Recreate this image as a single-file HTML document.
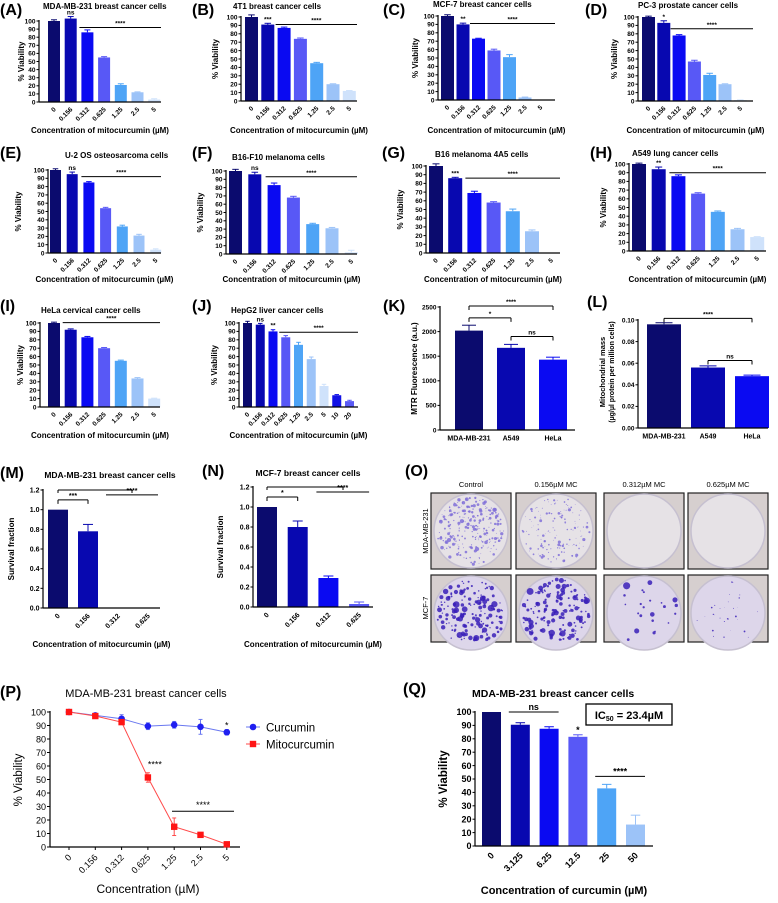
<!DOCTYPE html>
<html><head><meta charset="utf-8"><style>
html,body{margin:0;padding:0;background:#fff}
svg{display:block;font-family:"Liberation Sans",Arial,sans-serif}
</style></head><body>
<svg id="fig" width="778" height="903" viewBox="0 0 778 903" xmlns="http://www.w3.org/2000/svg"></svg>
<script>
// ---------- data ----------
const viabTicks=[0,10,20,30,40,50,60,70,80,90,100];
const viabTickLabels=['0','10','20','30','40','50','60','70','80','90','100'];
const conc7=['0','0.156','0.312','0.625','1.25','2.5','5'];
const conc9=['0','0.156','0.312','0.625','1.25','2.5','5','10','20'];
const A_vals=[100,103,86,55,21,12,3];   const A_errs=[1.5,2.5,3,1,1.5,0.5,1];
const B_vals=[100,91,87,74,45,20,12];   const B_errs=[2.5,1.5,1,1,1,0.5,0.5];
const C_vals=[100,90,73,59,51,3,0];     const C_errs=[1.5,1.5,0.5,1.5,3,0.5,0];
const D_vals=[100,93,78,47,31,20,1];    const D_errs=[1,2.5,1,1.5,2,0.5,0.3];
const E_vals=[100,95,85,54,32,21,4];    const E_errs=[1.5,2.5,1,1,1.5,1.5,1];
const F_vals=[100,96,83,68,36,31,2];    const F_errs=[2,2.5,2.5,1.5,1,1,2.5];
const G_vals=[100,86,69,58,48,25,0];    const G_errs=[2.5,1,2,1,2.5,1.5,0];
const H_vals=[100,94,86,66,45,25,16];   const H_errs=[1,2.5,1.5,1,1,1,0.5];
const I_vals=[100,92,83,70,55,34,10];   const I_errs=[1,1,1,0.8,0.8,1,0.5];
const J_vals=[100,98,90,83,74,57,25,14,7]; const J_errs=[2,1.5,2,2,3,2.5,2,0.8,1];
const K_cats=['MDA-MB-231','A549','HeLa'];
const K_vals=[2020,1670,1430]; const K_errs=[110,70,50];
const K_ticks=[0,500,1000,1500,2000,2500]; const K_tickLabels=['0','500','1000','1500','2000','2500'];
const L_vals=[0.096,0.056,0.048]; const L_errs=[0.0015,0.0015,0.001];
const L_ticks=[0,0.02,0.04,0.06,0.08,0.10]; const L_tickLabels=['0.00','0.02','0.04','0.06','0.08','0.10'];
const MN_cats=['0','0.156','0.312','0.625'];
const M_vals=[1,0.78,0,0]; const M_errs=[0,0.07,0,0];
const N_vals=[1,0.80,0.29,0.03]; const N_errs=[0,0.06,0.02,0.02];
const SF_ticks=[0,0.2,0.4,0.6,0.8,1.0,1.2]; const SF_tickLabels=['0.0','0.2','0.4','0.6','0.8','1.0','1.2'];
const P_curcumin=[100,97.5,95,89.5,90.5,89,85]; const P_curErr=[1,1,3,2.5,2.5,5.5,2];
const P_mito=[100,97,92.5,51.5,15,9,2]; const P_mitoErr=[1,1,1.5,3.5,6.5,1,1];
const Q_cats=['0','3.125','6.25','12.5','25','50'];
const Q_vals=[100,90.5,87.5,81.5,43,16]; const Q_errs=[0,1.5,1.5,1.5,3,7];

const C7=['#0b0b6e','#0808b0','#0a0af2','#5858f6','#4ea4f6','#9cc3f8','#cfe2fb'];
const C9=C7.concat(['#1212e6','#5a5af5']);

// ---------- helpers ----------
const NS='http://www.w3.org/2000/svg';
const svg=document.getElementById('fig');
function mk(tag,attrs,name,parent){
  const e=document.createElementNS(NS,tag);
  for(const k in attrs) e.setAttribute(k,attrs[k]);
  
  
  (parent||svg).appendChild(e);
  return e;
}
function txt(x,y,s,size,name,o){
  o=o||{};
  const t=mk('text',{x:x,y:y,'font-size':size,'font-weight':o.w||'bold','text-anchor':o.a||'start',fill:o.fill||'#000'},name,o.p);
  if(o.rot) t.setAttribute('transform','rotate('+o.rot+' '+x+' '+y+')');
  t.textContent=s; return t;
}
function line(x1,y1,x2,y2,name,p,col,w){return mk('line',{x1:x1,y1:y1,x2:x2,y2:y2,stroke:col||'#000','stroke-width':w||1},name,p);}

function barPanel(g,d){
  const grp=mk('g',{},g.id+'-panel');
  const ys=v=>g.y0-(v/g.max)*(g.y0-g.yTop);
  const xl=i=>g.bx+i*g.step;
  const xc=i=>xl(i)+g.bw/2;
  const fs=g.fs||6.5;
  d.vals.forEach((v,i)=>{
    mk('rect',{x:xl(i),y:ys(v),width:g.bw,height:Math.max(0,g.y0-ys(v)),fill:d.colors[i]},'bar-'+d.cats[i],grp);
    if(d.errs[i]>0){
      const ye=ys(v+d.errs[i]);
      line(xc(i),ys(v),xc(i),ye,'error-bar',grp,d.colors[i],1);
      line(xc(i)-g.bw*0.25,ye,xc(i)+g.bw*0.25,ye,'error-cap',grp,d.colors[i],1);
    }
  });
  line(g.ax,g.y0,g.ax,g.yTop-1,'y-axis',grp,'#000',1.2);
  line(g.ax,g.y0,g.end,g.y0,'x-axis',grp,'#000',1.2);
  d.ticks.forEach((t,k)=>{
    line(g.ax-2.5,ys(t),g.ax,ys(t),'y-tick',grp);
    txt(g.ax-3.5,ys(t)+fs*0.36,d.tickLabels[k],fs,'y-tick-label',{a:'end',p:grp});
  });
  d.cats.forEach((c,i)=>{
    if(g.flat) txt(xc(i),g.y0+fs+4,c,fs+0.5,'x-tick-label',{a:'middle',p:grp});
    else txt(xc(i)+fs*0.35,g.y0+fs*0.9+2,c,fs,'x-tick-label',{a:'end',rot:-45,p:grp});
  });
  if(g.xt) txt(g.xtx||(g.ax+g.end)/2,g.xty,g.xt,g.xfs||8,'x-axis-title',{a:'middle',p:grp});
  if(g.yl) txt(g.ylx,(g.y0+g.yTop)/2,g.yl,g.yfs||8,'y-axis-title',{a:'middle',rot:-90,p:grp});
  if(g.title) txt(g.tx,g.ty,g.title,g.tfs||8,'chart-title',{a:g.ta||'start',p:grp});
  if(g.label) txt(g.lx,g.ly,g.label,16,'panel-label',{p:grp});
  (d.sig||[]).forEach(s=>{
    if(s.t==='star'){ txt(xc(s.i),ys(d.vals[s.i]+d.errs[s.i])-2,s.s,fs,'significance-mark',{a:'middle',p:grp}); }
    else if(s.t==='line'){ const x1=xl(s.i)-2, x2=s.to!=null?xc(s.to)+g.bw/2:g.end, y=ys(s.v);
      line(x1,y,x2,y,'significance-line',grp); txt((x1+x2)/2,y-2,s.s,fs,'significance-mark',{a:'middle',p:grp}); }
    else if(s.t==='br'){ const x1=xc(s.i), x2=s.x2!=null?s.x2:xc(s.j), y=ys(s.v), h=s.h||4;
      line(x1,y,x2,y,'significance-bracket',grp); line(x1,y,x1,y+h,'bracket-tick',grp); line(x2,y,x2,y+h,'bracket-tick',grp);
      if(s.s) txt((x1+x2)/2,y-2,s.s,fs,'significance-mark',{a:'middle',p:grp}); }
  });
  return {ys:ys,xc:xc,xl:xl};
}

const XT='Concentration of mitocurcumin (\u00b5M)';
const VL='% Viability';
function vp(id,geo,vals,errs,cats,colors,sig){
  geo.id=id; geo.max=100; geo.yl=VL; geo.xt=XT;
  return barPanel(geo,{vals:vals,errs:errs,cats:cats,colors:colors,ticks:viabTicks,tickLabels:viabTickLabels,sig:sig});
}
// Row 1
vp('A',{ax:39,y0:102,yTop:21,bx:48,step:16.7,bw:12,end:161,ylx:24,xty:133,title:'MDA-MB-231 breast cancer cells',tx:43,ty:9,label:'(A)',lx:0,ly:15},A_vals,A_errs,conc7,C7,
 [{t:'star',i:1,s:'ns'},{t:'line',i:2,v:92,s:'****'}]);
vp('B',{ax:241,y0:101,yTop:17,bx:245,step:16.3,bw:13,end:357,ylx:218,xty:133,title:'4T1 breast cancer cells',tx:233,ty:9,label:'(B)',lx:192,ly:15},B_vals,B_errs,conc7,C7,
 [{t:'star',i:1,s:'***'},{t:'line',i:2,v:91,s:'****'}]);
vp('C',{ax:438,y0:100,yTop:16,bx:441,step:15.5,bw:13,end:555,ylx:418,xty:133,title:'MCF-7 breast cancer cells',tx:433,ty:7,label:'(C)',lx:383,ly:15},C_vals,C_errs,conc7,C7,
 [{t:'star',i:1,s:'**'},{t:'line',i:2,v:91,s:'****'}]);
vp('D',{ax:638,y0:101,yTop:17,bx:642,step:15.3,bw:13,end:753,ylx:617,xty:133,title:'PC-3 prostate cancer cells',tx:638,ty:8,label:'(D)',lx:585,ly:15},D_vals,D_errs,conc7,C7,
 [{t:'star',i:1,s:'*'},{t:'line',i:2,v:86,s:'****'}]);
// Row 2
vp('E',{ax:48,y0:253,yTop:170,bx:50,step:16.7,bw:11,end:161,ylx:21,xty:282,title:'U-2 OS osteosarcoma cells',tx:65,ty:158,label:'(E)',lx:0,ly:158},E_vals,E_errs,conc7,C7,
 [{t:'star',i:1,s:'ns'},{t:'line',i:2,v:92,s:'****'}]);
vp('F',{ax:226,y0:254,yTop:171,bx:229,step:19.3,bw:13,end:357,ylx:203,xty:282,title:'B16-F10 melanoma cells',tx:232,ty:160,label:'(F)',lx:192,ly:158},F_vals,F_errs,conc7,C7,
 [{t:'star',i:1,s:'ns'},{t:'line',i:2,v:93,s:'****'}]);
vp('G',{ax:426,y0:253,yTop:166,bx:429,step:19.2,bw:14,end:560,ylx:403,xty:282,title:'B16 melanoma 4A5 cells',tx:435,ty:157,label:'(G)',lx:382,ly:158},G_vals,G_errs,conc7,C7,
 [{t:'star',i:1,s:'***'},{t:'line',i:2,v:86,s:'****'}]);
vp('H',{ax:629,y0:251,yTop:164,bx:632,step:19.7,bw:14,end:766,ylx:606,xty:282,title:'A549 lung cancer cells',tx:632,ty:156,label:'(H)',lx:590,ly:158},H_vals,H_errs,conc7,C7,
 [{t:'star',i:1,s:'**'},{t:'line',i:2,v:90,s:'****'}]);
// Row 3
vp('I',{ax:40,y0:407,yTop:323,bx:48,step:16.7,bw:12,end:160,ylx:23,xty:438,title:'HeLa cervical cancer cells',tx:41,ty:313,label:'(I)',lx:0,ly:311},I_vals,I_errs,conc7,C7,
 [{t:'line',i:1,v:100.5,s:'****'}]);
vp('J',{ax:239,y0:407,yTop:323,bx:243,step:12.75,bw:9,end:358,ylx:217,xty:438,title:'HepG2 liver cancer cells',tx:231,ty:313,label:'(J)',lx:192,ly:311},J_vals,J_errs,conc9,C9,
 [{t:'star',i:1,s:'ns'},{t:'star',i:2,s:'**'},{t:'line',i:3,v:89,s:'****'}]);
barPanel({id:'K',ax:440,y0:430,yTop:307,max:2500,bx:455,step:42,bw:28,end:575,flat:true,yl:'MTR Fluorescence (a.u.)',ylx:417,yfs:8,label:'(K)',lx:383,ly:311},
 {vals:K_vals,errs:K_errs,cats:K_cats,colors:C7,ticks:K_ticks,tickLabels:K_tickLabels,
  sig:[{t:'br',i:0,j:2,v:2520,s:'****'},{t:'br',i:0,j:1,v:2280,s:'*'},{t:'br',i:1,j:2,v:1900,s:'ns'}]});
barPanel({id:'L',ax:638,y0:428,yTop:320,max:0.10,bx:647,step:44,bw:34,end:768,flat:true,label:'(L)',lx:587,ly:307},
 {vals:L_vals,errs:L_errs,cats:K_cats,colors:C7,ticks:L_ticks,tickLabels:L_tickLabels,
  sig:[{t:'br',i:0,j:2,v:0.1015,s:'****'},{t:'br',i:1,j:2,v:0.0625,s:'ns'}]});
txt(605,372,'Mitochondrial mass',7.5,'y-axis-title',{a:'middle',rot:-90});
txt(614,372,'(\u00b5g/\u00b5l protein per million cells)',7,'y-axis-title',{a:'middle',rot:-90});
// Row 4 M N
barPanel({id:'M',ax:43,y0:608,yTop:490,max:1.2,bx:48,step:30,bw:20,end:160,fs:7,yl:'Survival fraction',ylx:14,xt:XT,xty:647,title:'MDA-MB-231 breast cancer cells',tx:110,ty:478,ta:'middle',tfs:8.5,label:'(M)',lx:0,ly:478},
 {vals:M_vals,errs:M_errs,cats:MN_cats,colors:C7,ticks:SF_ticks,tickLabels:SF_tickLabels,
  sig:[{t:'br',i:0,j:1,v:1.1,s:'***'},{t:'br',i:0,x2:132,v:1.2,s:'',h:3},{t:'line',i:2,to:3,v:1.15,s:'****'}]});
barPanel({id:'N',ax:253,y0:607,yTop:487,max:1.2,bx:257,step:30.7,bw:20,end:373,fs:7,yl:'Survival fraction',ylx:223,xt:XT,xty:647,title:'MCF-7 breast cancer cells',tx:308,ty:476,ta:'middle',tfs:8.5,label:'(N)',lx:202,ly:476},
 {vals:N_vals,errs:N_errs,cats:MN_cats,colors:C7,ticks:SF_ticks,tickLabels:SF_tickLabels,
  sig:[{t:'br',i:0,j:1,v:1.1,s:'*'},{t:'br',i:0,x2:343,v:1.2,s:'',h:3},{t:'line',i:2,to:3,v:1.15,s:'****'}]});

// ---------- O photos ----------
(function(){
  txt(405,476,'(O)',16,'panel-label');
  const colX=[431,516,604,688], rowY=[493,575], W=80, H=[76,67];
  const heads=['Control','0.156\u00b5M MC','0.312\u00b5M MC','0.625\u00b5M MC'];
  heads.forEach((h,i)=>txt(colX[i]+W/2,487,h,7.5,'column-header',{a:'middle',w:'normal'}));
  txt(428,531,'MDA-MB-231',7.5,'row-label',{a:'middle',w:'normal',rot:-90});
  txt(428,608,'MCF-7',7.5,'row-label',{a:'middle',w:'normal',rot:-90});
  let s=7; const rnd=()=>{s=(s*16807)%2147483647;return s/2147483647;};
  const dens=[[260,150,0,0],[160,150,25,30]], size=[[0.8,0.6,0,0],[1.3,1.4,1.6,0.45]];
  const dot=['#8070d8','#3a20b8'];
  rowY.forEach((y,r)=>colX.forEach((x,c)=>{
    mk('rect',{x:x,y:y,width:W,height:H[r],fill:'#d6cfcf',stroke:'#222','stroke-width':1.2},'plate-photo');
    const cx=x+W/2, cy=y+38, R=37;
    mk('circle',{cx:cx,cy:cy,r:R,fill:r===1?'#ddd6ea':'#e6e2e6',stroke:'#c6c0d0','stroke-width':1.5},'plate-dish');
    for(let k=0;k<dens[r][c];k++){
      const a=rnd()*6.283, d=Math.sqrt(rnd())*(R-3);
      const py=cy+Math.sin(a)*d; const rr=(0.5+rnd()*rnd()*2.2)*size[r][c];
      if(py>y+H[r]-1) continue;
      mk('circle',{cx:cx+Math.cos(a)*d,cy:py,r:rr,fill:dot[r],opacity:0.85},'colony');
    }
  }));
})();

// ---------- P line chart ----------
(function(){
  const ax=50,y0=847,yTop=712,x0=69,dx=26.3,end=240;
  const ys=v=>y0-(v/100)*(y0-yTop), xs=i=>x0+i*dx;
  const g=mk('g',{},'P-panel');
  txt(0,697,'(P)',16,'panel-label',{p:g});
  txt(146,697,'MDA-MB-231 breast cancer cells',11,'chart-title',{a:'middle',w:'normal',p:g});
  line(ax,y0,ax,yTop-1,'y-axis',g,'#000',1.2); line(ax,y0,end,y0,'x-axis',g,'#000',1.2);
  viabTicks.forEach((t,k)=>{line(ax-3,ys(t),ax,ys(t),'y-tick',g);txt(ax-4,ys(t)+3.3,viabTickLabels[k],9,'y-tick-label',{a:'end',w:'normal',p:g});});
  conc7.forEach((c,i)=>{line(xs(i),y0,xs(i),y0+3,'x-tick',g);txt(xs(i)+3,y0+11,c,9,'x-tick-label',{a:'end',w:'normal',rot:-45,p:g});});
  txt(22,780,VL,11.5,'y-axis-title',{a:'middle',w:'normal',rot:-90,p:g});
  txt(148,893,'Concentration (\u00b5M)',12,'x-axis-title',{a:'middle',w:'normal',p:g});
  const ser=[[P_curcumin,P_curErr,'#1f1ff0','#6a78f0','curcumin'],[P_mito,P_mitoErr,'#ff1414','#ff4a4a','mitocurcumin']];
  ser.forEach(([v,e,c,lc,n])=>{
    mk('polyline',{points:v.map((y,i)=>xs(i)+','+ys(y)).join(' '),fill:'none',stroke:lc,'stroke-width':1},n+'-line',g);
    v.forEach((y,i)=>{
      line(xs(i),ys(y-e[i]),xs(i),ys(y+e[i]),n+'-error',g,lc,1);
      line(xs(i)-2,ys(y+e[i]),xs(i)+2,ys(y+e[i]),'error-cap',g,lc,1);
      line(xs(i)-2,ys(y-e[i]),xs(i)+2,ys(y-e[i]),'error-cap',g,lc,1);
      if(n==='curcumin') mk('circle',{cx:xs(i),cy:ys(y),r:3.3,fill:c},'curcumin-point',g);
      else mk('rect',{x:xs(i)-3.2,y:ys(y)-3.2,width:6.4,height:6.4,fill:c},'mitocurcumin-point',g);
    });
  });
  txt(xs(6),ys(P_curcumin[6]+P_curErr[6])-1,'*',9,'significance-mark',{a:'middle',w:'normal',p:g});
  txt(xs(3)+7,ys(59),'****',9,'significance-mark',{a:'middle',w:'normal',p:g});
  line(172,ys(26.5),234,ys(26.5),'significance-line',g);
  txt(203,ys(26.5)-3,'****',9,'significance-mark',{a:'middle',w:'normal',p:g});
  line(246,727,260,727,'legend-line',g,'#6a78f0');mk('circle',{cx:253,cy:727,r:3.3,fill:'#1f1ff0'},'legend-marker',g);
  txt(266,731.5,'Curcumin',11.5,'legend-entry',{w:'normal',p:g});
  line(246,744,260,744,'legend-line',g,'#ff4a4a');mk('rect',{x:249.8,y:740.8,width:6.4,height:6.4,fill:'#ff1414'},'legend-marker',g);
  txt(266,748.5,'Mitocurcumin',11.5,'legend-entry',{w:'normal',p:g});
})();

// ---------- Q ----------
barPanel({id:'Q',ax:475,y0:846,yTop:712,max:100,bx:482,step:28.8,bw:19,end:653,fs:9,yl:VL,ylx:447,yfs:11.5,
  xt:'Concentration of curcumin (\u00b5M)',xtx:564,xty:894,xfs:11,title:'MDA-MB-231 breast cancer cells',tx:472,ty:697,tfs:10.5,label:'(Q)',lx:403,ly:694},
 {vals:Q_vals,errs:Q_errs,cats:Q_cats,colors:C7,ticks:viabTicks,tickLabels:viabTickLabels,
  sig:[{t:'line',i:1,to:2,v:100,s:'ns'},{t:'star',i:3,s:'*'},{t:'line',i:4,to:5,v:52,s:'****'}]});
(function(){
  mk('rect',{x:586,y:704,width:86,height:21,fill:'#fff',stroke:'#000','stroke-width':1.3},'ic50-box');
  const t=txt(629,719,'IC',11,'ic50-label',{a:'middle'});
  const sub=document.createElementNS(NS,'tspan'); sub.setAttribute('font-size','7'); sub.setAttribute('dy','2'); sub.textContent='50'; t.appendChild(sub);
  const rest=document.createElementNS(NS,'tspan'); rest.setAttribute('dy','-2'); rest.textContent=' = 23.4\u00b5M'; t.appendChild(rest);
})();
</script>
</body></html>
